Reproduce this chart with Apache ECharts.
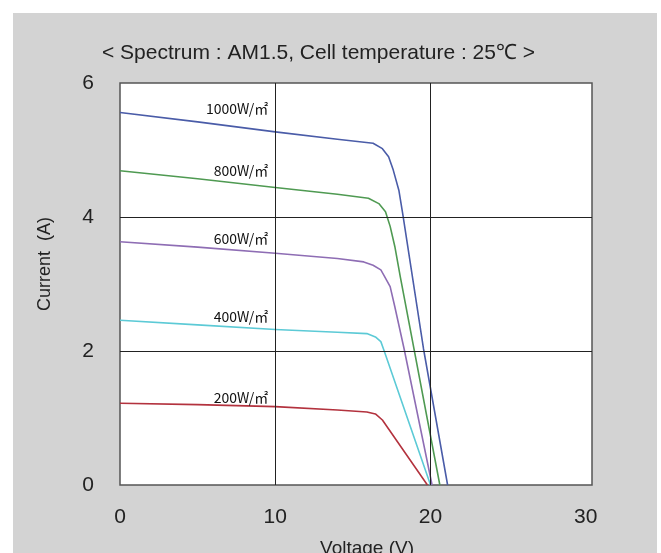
<!DOCTYPE html>
<html>
<head>
<meta charset="utf-8">
<script src="https://cdn.jsdelivr.net/npm/echarts@6/dist/echarts.min.js"></script>
<style>
html,body{margin:0;padding:0;background:#fff;}
#chart{width:661px;height:553px;}
</style>
</head>
<body>
<div id="chart"></div>
<script>
// ---- data ----
var seriesNames = ['1000W/㎡', '800W/㎡', '600W/㎡', '400W/㎡', '200W/㎡'];
var seriesColors = ['#4a5ca8', '#4f9a52', '#8e6db4', '#5ccad6', '#b3323e'];

var v1000 = [0, 5, 10, 14, 16.3, 16.9, 17.3, 17.6, 17.96, 18.2, 19.55, 21.1];
var i1000 = [5.56, 5.42, 5.27, 5.16, 5.10, 5.02, 4.90, 4.70, 4.40, 4.06, 2.03, 0];

var v800 = [0, 5, 10, 14, 16.0, 16.67, 17.1, 17.4, 17.7, 18.06, 20.6];
var i800 = [4.69, 4.57, 4.44, 4.34, 4.28, 4.20, 4.08, 3.86, 3.56, 3.10, 0];

var v600 = [0, 5, 10, 14, 15.7, 16.3, 16.8, 17.0, 17.4, 17.7, 18.3, 20.1];
var i600 = [3.63, 3.55, 3.46, 3.38, 3.33, 3.28, 3.21, 3.13, 2.96, 2.66, 2.03, 0];

var v400 = [0, 5, 10, 14, 15.9, 16.45, 16.8, 17.0, 20.0];
var i400 = [2.46, 2.39, 2.32, 2.28, 2.26, 2.21, 2.14, 2.01, 0];

var v200 = [0, 5, 10, 14, 15.9, 16.45, 16.9, 19.8];
var i200 = [1.22, 1.20, 1.17, 1.12, 1.09, 1.06, 0.97, 0];

var labelV = [9.55, 9.55, 9.55, 9.55, 9.55];
var labelI = [5.61, 4.69, 3.67, 2.51, 1.31];

var xTicks = [0, 10, 20, 30];
var yTicks = [0, 2, 4, 6];
var gridX = [10, 20];
var gridY = [2, 4];

var titleText = '< Spectrum : AM1.5, Cell temperature : 25℃ >';
var xName = 'Voltage (V)';
var yName = 'Current  (A)';

// ---- build ----
var vs = [v1000, v800, v600, v400, v200];
var is = [i1000, i800, i600, i400, i200];

function zip(a, b) { return a.map(function (x, k) { return [x, b[k]]; }); }

var series = seriesNames.map(function (name, k) {
  var s = {
    name: name,
    type: 'line',
    data: zip(vs[k], is[k]),
    showSymbol: false,
    smooth: false,
    lineStyle: { color: seriesColors[k], width: 1.6, join: 'round' },
    itemStyle: { color: seriesColors[k] },
    z: 3,
    markPoint: {
      symbol: 'circle',
      symbolSize: 0,
      silent: true,
      label: {
        show: true,
        position: 'left',
        distance: 0,
        formatter: name,
        color: '#111',
        fontSize: 14,
        fontFamily: 'Noto Sans CJK KR, Noto Sans, sans-serif'
      },
      data: [{ coord: [labelV[k], labelI[k]] }]
    }
  };
  if (k === 0) {
    s.markLine = {
      silent: true,
      symbol: 'none',
      label: { show: false },
      lineStyle: { color: '#222', width: 1, type: 'solid' },
      emphasis: { disabled: true },
      data: gridX.map(function (x) { return { xAxis: x }; })
        .concat(gridY.map(function (y) { return { yAxis: y }; }))
    };
  }
  return s;
});

var chart = echarts.init(document.getElementById('chart'));
chart.setOption({
  backgroundColor: '#fff',
  animation: false,
  graphic: {
    elements: [{
      type: 'rect',
      z: -100,
      silent: true,
      shape: { x: 13, y: 13, width: 644, height: 545 },
      style: { fill: '#d3d3d3' }
    }]
  },
  title: {
    text: titleText,
    left: 97,
    top: 38,
    textStyle: {
      fontSize: 21,
      fontWeight: 'normal',
      color: '#222',
      fontFamily: 'Liberation Sans, Arial, sans-serif'
    }
  },
  grid: {
    left: 120, right: 69, top: 83, bottom: 68,
    outerBoundsMode: 'none',
    containLabel: false,
    show: true,
    backgroundColor: '#fff',
    borderColor: '#555',
    borderWidth: 1.5
  },
  xAxis: {
    type: 'value',
    min: 0, max: 30.4, interval: 10,
    name: xName,
    nameLocation: 'middle',
    nameGap: 54,
    nameTextStyle: { fontSize: 19, color: '#222', fontFamily: 'Liberation Sans, Arial, sans-serif', padding: [0, 0, 0, 22] },
    axisLine: { show: false },
    axisTick: { show: false },
    splitLine: { show: false },
    axisLabel: {
      margin: 22,
      fontSize: 21,
      color: '#222',
      fontFamily: 'Liberation Sans, Arial, sans-serif',
      formatter: function (v) { return xTicks.indexOf(v) >= 0 ? String(v) : ''; }
    }
  },
  yAxis: {
    type: 'value',
    min: 0, max: 6, interval: 2,
    name: yName,
    nameLocation: 'middle',
    nameGap: 66,
    nameTextStyle: { fontSize: 18, color: '#222', fontFamily: 'Liberation Sans, Arial, sans-serif', padding: [0, 0, 0, 40] },
    axisLine: { show: false },
    axisTick: { show: false },
    splitLine: { show: false },
    axisLabel: {
      margin: 26,
      fontSize: 21,
      color: '#222',
      fontFamily: 'Liberation Sans, Arial, sans-serif',
      formatter: function (v) { return yTicks.indexOf(v) >= 0 ? String(v) : ''; }
    }
  },
  series: series
});
</script>
</body>
</html>
